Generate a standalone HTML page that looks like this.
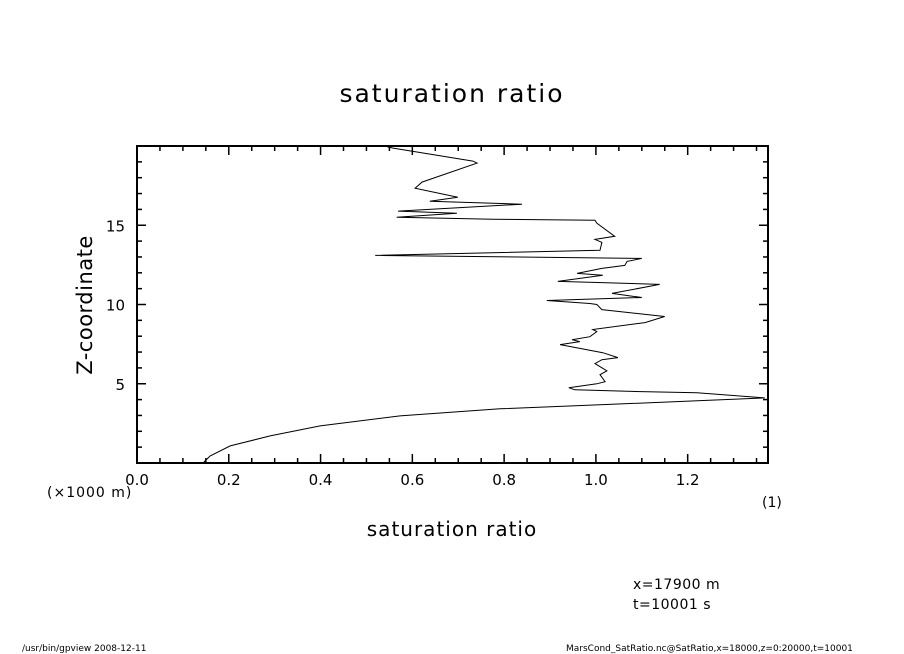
<!DOCTYPE html>
<html><head><meta charset="utf-8"><style>
body{margin:0;background:#fff;}
svg{display:block;font-family:"DejaVu Sans","Liberation Sans",sans-serif;}
</style></head><body>
<svg id="c" width="904" height="654" viewBox="0 0 904 654">
<text x="452" y="102" text-anchor="middle" font-size="25" letter-spacing="2">saturation ratio</text>
<text x="452" y="536" text-anchor="middle" font-size="20" letter-spacing="1">saturation ratio</text>
<text transform="translate(92,305) rotate(-90)" text-anchor="middle" font-size="21" letter-spacing="0.5">Z-coordinate</text>
<text x="47" y="497" font-size="14" letter-spacing="1">(×1000 m)</text>
<text x="762" y="507" font-size="14">(1)</text>
<text x="633" y="589" font-size="14" letter-spacing="0.5">x=17900 m</text>
<text x="633" y="609" font-size="14" letter-spacing="0.5">t=10001 s</text>
<text x="22" y="651" font-size="9">/usr/bin/gpview  2008-12-11</text>
<text x="566" y="651" font-size="9">MarsCond_SatRatio.nc@SatRatio,x=18000,z=0:20000,t=10001</text>
<g id="axes"></g>
<polyline id="line" fill="none" stroke="#000" stroke-width="1"></polyline>
</svg>
<script>
const sat=[0.545,0.558,0.732,0.741,0.621,0.606,0.699,0.638,0.839,0.569,0.697,0.566,0.776,0.998,1.002,1.041,0.998,1.013,1.009,0.519,1.100,1.068,1.063,1.013,0.959,1.015,0.917,1.004,1.139,1.035,1.100,0.893,0.987,1.002,1.013,1.150,1.107,0.993,1.002,0.987,0.948,0.965,0.922,1.015,1.048,1.013,0.998,1.024,1.009,1.020,1.002,0.941,0.954,1.113,1.220,1.368,1.009,0.791,0.573,0.399,0.290,0.203,0.159,0.144];
const zc=[19.95,19.87,19.05,18.92,17.72,17.34,16.77,16.52,16.33,15.89,15.76,15.51,15.38,15.32,15.13,14.30,14.11,13.92,13.42,13.10,12.91,12.72,12.47,12.28,11.96,11.84,11.46,11.39,11.27,10.70,10.44,10.25,10.06,10.00,9.68,9.24,8.86,8.42,8.29,7.97,7.78,7.66,7.47,6.96,6.65,6.52,6.27,5.82,5.57,5.13,5.00,4.75,4.62,4.49,4.43,4.11,3.67,3.42,2.97,2.34,1.71,1.08,0.44,0.0];
const xTickLabels=["0.0","0.2","0.4","0.6","0.8","1.0","1.2"];
const yTickLabels=["5","10","15"];
const X0=137,X1=768,Y0=463,Y1=146,XMAX=1.375,ZMAX=20;
const sx=v=>X0+v/XMAX*(X1-X0);
const sy=v=>Y0-v/ZMAX*(Y0-Y1);
const NS="http://www.w3.org/2000/svg";
const ax=document.getElementById('axes');
function ln(x1,y1,x2,y2,w){const l=document.createElementNS(NS,'line');l.setAttribute('x1',x1);l.setAttribute('y1',y1);l.setAttribute('x2',x2);l.setAttribute('y2',y2);l.setAttribute('stroke','#000');l.setAttribute('stroke-width',w);ax.appendChild(l);return l;}
const fr=document.createElementNS(NS,'rect');
fr.setAttribute('x',X0);fr.setAttribute('y',Y1);fr.setAttribute('width',X1-X0);fr.setAttribute('height',Y0-Y1);
fr.setAttribute('fill','none');fr.setAttribute('stroke','#000');fr.setAttribute('stroke-width','2');


ax.appendChild(fr);
for(let i=0;i*0.05<=XMAX+1e-9;i++){const x=sx(i*0.05);const L=(i%4===0)?9:5;
 const t1=ln(x,Y0,x,Y0-L,1.5);
 
 
 const t2=ln(x,Y1,x,Y1+L,1.5);
 
 }
for(let i=1;i<ZMAX;i++){const y=sy(i);const L=(i%5===0)?9:5;
 const t1=ln(X0,y,X0+L,y,1.5);
 
 
 const t2=ln(X1,y,X1-L,y,1.5);
 
 }
xTickLabels.forEach(s=>{const t=document.createElementNS(NS,'text');t.setAttribute('x',sx(parseFloat(s)));t.setAttribute('y',Y0+22);t.setAttribute('text-anchor','middle');t.setAttribute('font-size','15');t.textContent=s;
 
 
 ax.appendChild(t);});
yTickLabels.forEach(s=>{const t=document.createElementNS(NS,'text');t.setAttribute('x',X0-12);t.setAttribute('y',sy(parseFloat(s))+6);t.setAttribute('text-anchor','end');t.setAttribute('font-size','15');t.textContent=s;
 
 
 ax.appendChild(t);});
document.getElementById('line').setAttribute('points',sat.map((v,i)=>sx(v).toFixed(1)+','+sy(zc[i]).toFixed(1)).join(' '));
</script>
</body></html>
